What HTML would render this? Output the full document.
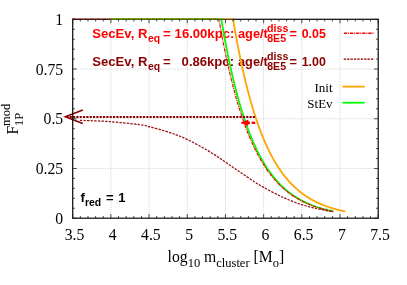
<!DOCTYPE html><html><head><meta charset="utf-8"><style>html,body{margin:0;padding:0;background:#fff}svg{display:block}text{font-family:"Liberation Serif",serif;fill:#000}.b{font-family:"Liberation Sans",sans-serif;font-weight:bold}</style></head><body>
<svg style="will-change:transform;filter:blur(0.4px)" width="407" height="285" viewBox="0 0 407 285">
<rect width="407" height="285" fill="#fff"/>
<path d="M110.89 19.3V218.2M149.07 19.3V218.2M187.26 19.3V218.2M225.45 19.3V218.2M263.64 19.3V218.2M301.82 19.3V218.2M340.01 19.3V218.2M72.7 168.47H378.2M72.7 118.75H378.2M72.7 69.03H378.2" stroke="#bcbcbc" stroke-width="0.8" stroke-dasharray="1 1.5" fill="none"/>
<text class="b" x="92.3" y="37.60" font-size="13.1" style="fill:#ff0000">SecEv, R</text>
<text class="b" x="148.1" y="42.10" font-size="10.4" style="fill:#ff0000">eq</text>
<text class="b" x="163.0" y="37.60" font-size="13.1" style="fill:#ff0000">=</text>
<text class="b" x="174.6" y="37.60" font-size="13.1" style="fill:#ff0000">16.00kpc:</text>
<text class="b" x="238.0" y="37.60" font-size="12.8" style="fill:#ff0000">age/t</text>
<text class="b" x="267.1" y="31.50" font-size="10.7" style="fill:#ff0000">diss</text>
<text class="b" x="267.2" y="42.10" font-size="10.6" style="fill:#ff0000">8E5</text>
<text class="b" x="289.4" y="37.60" font-size="12.8" style="fill:#ff0000">=</text>
<text class="b" x="301.7" y="37.60" font-size="12.4" style="fill:#ff0000">0.05</text>
<text class="b" x="92.3" y="65.90" font-size="13.1" style="fill:#8b0000">SecEv, R</text>
<text class="b" x="148.1" y="70.40" font-size="10.4" style="fill:#8b0000">eq</text>
<text class="b" x="163.0" y="65.90" font-size="13.1" style="fill:#8b0000">=</text>
<text class="b" x="181.6" y="65.90" font-size="13.1" style="fill:#8b0000">0.86kpc:</text>
<text class="b" x="238.0" y="65.90" font-size="12.8" style="fill:#8b0000">age/t</text>
<text class="b" x="267.1" y="59.80" font-size="10.7" style="fill:#8b0000">diss</text>
<text class="b" x="267.2" y="70.40" font-size="10.6" style="fill:#8b0000">8E5</text>
<text class="b" x="289.4" y="65.90" font-size="12.8" style="fill:#8b0000">=</text>
<text class="b" x="301.7" y="65.90" font-size="12.4" style="fill:#8b0000">1.00</text>
<clipPath id="c"><rect x="71.7" y="18.1" width="307.5" height="201.3"/></clipPath>
<g clip-path="url(#c)" fill="none" stroke-linejoin="round">
<path d="M232.89 18.40L233.09 19.30L233.79 23.46L234.49 27.54L235.19 31.53L235.89 35.44L236.60 39.26L237.30 43.01L238.00 46.68L238.70 50.27L239.40 53.78L240.10 57.22L240.81 60.59L241.51 63.89L242.21 67.12L242.91 70.29L243.61 73.38L244.31 76.41L245.02 79.38L245.72 82.29L246.42 85.13L247.12 87.92L247.82 90.65L248.52 93.32L249.23 95.93L249.93 98.49L250.63 100.99L251.33 103.45L252.03 105.85L252.73 108.20L253.44 110.50L254.14 112.76L254.84 114.97L255.54 117.13L256.24 119.24L256.95 121.31L257.65 123.34L258.35 125.33L259.05 127.27L259.75 129.18L260.45 131.04L261.16 132.86L261.86 134.65L262.56 136.40L263.26 138.11L263.96 139.79L264.66 141.43L265.37 143.04L266.07 144.61L266.77 146.15L267.47 147.66L268.17 149.13L268.87 150.58L269.58 152.00L270.28 153.38L270.98 154.74L271.68 156.07L272.38 157.37L273.08 158.64L273.79 159.89L274.49 161.11L275.19 162.30L275.89 163.47L276.59 164.62L277.29 165.74L278.00 166.84L278.70 167.91L279.40 168.97L280.10 170.00L280.80 171.01L281.50 171.99L282.21 172.96L282.91 173.91L283.61 174.84L284.31 175.74L285.01 176.63L285.71 177.50L286.42 178.35L287.12 179.19L287.82 180.00L288.52 180.80L289.22 181.59L289.92 182.35L290.63 183.10L291.33 183.84L292.03 184.56L292.73 185.26L293.43 185.95L294.13 186.63L294.84 187.29L295.54 187.93L296.24 188.57L296.94 189.19L297.64 189.80L298.35 190.39L299.05 190.97L299.75 191.54L300.45 192.10L301.15 192.65L301.85 193.18L302.56 193.71L303.26 194.22L303.96 194.72L304.66 195.21L305.36 195.69L306.06 196.16L306.77 196.63L307.47 197.08L308.17 197.52L308.87 197.95L309.57 198.38L310.27 198.79L310.98 199.20L311.68 199.59L312.38 199.98L313.08 200.37L313.78 200.74L314.48 201.10L315.19 201.46L315.89 201.81L316.59 202.16L317.29 202.49L317.99 202.82L318.69 203.14L319.40 203.46L320.10 203.77L320.80 204.07L321.50 204.36L322.20 204.65L322.90 204.94L323.61 205.21L324.31 205.49L325.01 205.75L325.71 206.01L326.41 206.27L327.11 206.52L327.82 206.76L328.52 207.00L329.22 207.24L329.92 207.47L330.62 207.69L331.32 207.91L332.03 208.13L332.73 208.34L333.43 208.54L334.13 208.75L334.83 208.94L335.54 209.14L336.24 209.33L336.94 209.51L337.64 209.69L338.34 209.87L339.04 210.05L339.75 210.22L340.45 210.38L341.15 210.55L341.85 210.71L342.55 210.87L343.25 211.02L343.96 211.17L344.66 211.32L345.36 211.46" stroke="#ffa500" stroke-width="1.8"/>
<path d="M221.13 18.40L221.33 19.30L222.03 23.47L222.73 27.55L223.43 31.54L224.13 35.45L224.84 39.28L225.54 43.02L226.24 46.69L226.94 50.29L227.65 53.80L228.35 57.25L229.05 60.62L229.75 63.92L230.45 67.15L231.16 70.32L231.86 73.41L232.56 76.45L233.26 79.42L233.96 82.32L234.67 85.17L235.37 87.96L236.07 90.68L236.77 93.35L237.48 95.97L238.18 98.53L238.88 101.04L239.58 103.49L240.28 105.89L240.99 108.25L241.69 110.55L242.39 112.80L243.09 115.01L243.80 117.17L244.50 119.29L245.20 121.36L245.90 123.39L246.60 125.38L247.31 127.32L248.01 129.22L248.71 131.09L249.41 132.91L250.11 134.70L250.82 136.45L251.52 138.16L252.22 139.84L252.92 141.48L253.63 143.09L254.33 144.66L255.03 146.20L255.73 147.71L256.43 149.18L257.14 150.63L257.84 152.05L258.54 153.43L259.24 154.79L259.95 156.12L260.65 157.42L261.35 158.69L262.05 159.94L262.75 161.16L263.46 162.35L264.16 163.52L264.86 164.67L265.56 165.79L266.26 166.89L266.97 167.96L267.67 169.01L268.37 170.04L269.07 171.05L269.78 172.04L270.48 173.01L271.18 173.95L271.88 174.88L272.58 175.79L273.29 176.68L273.99 177.55L274.69 178.40L275.39 179.23L276.10 180.05L276.80 180.85L277.50 181.63L278.20 182.40L278.90 183.15L279.61 183.88L280.31 184.60L281.01 185.30L281.71 185.99L282.41 186.67L283.12 187.33L283.82 187.97L284.52 188.61L285.22 189.23L285.93 189.83L286.63 190.43L287.33 191.01L288.03 191.58L288.73 192.14L289.44 192.68L290.14 193.22L290.84 193.74L291.54 194.25L292.25 194.75L292.95 195.25L293.65 195.73L294.35 196.20L295.05 196.66L295.76 197.11L296.46 197.55L297.16 197.98L297.86 198.41L298.56 198.82L299.27 199.23L299.97 199.62L300.67 200.01L301.37 200.39L302.08 200.77L302.78 201.13L303.48 201.49L304.18 201.84L304.88 202.18L305.59 202.52L306.29 202.85L306.99 203.17L307.69 203.48L308.40 203.79L309.10 204.09L309.80 204.39L310.50 204.68L311.20 204.96L311.91 205.24L312.61 205.51L313.31 205.78L314.01 206.04L314.71 206.29L315.42 206.54L316.12 206.78L316.82 207.02L317.52 207.26L318.23 207.49L318.93 207.71L319.63 207.93L320.33 208.15L321.03 208.36L321.74 208.56L322.44 208.77L323.14 208.96L323.84 209.16L324.55 209.35L325.25 209.53L325.95 209.71L326.65 209.89L327.35 210.06L328.06 210.24L328.76 210.40L329.46 210.57L330.16 210.73L330.86 210.88L331.57 211.04L332.27 211.19L332.97 211.33L333.67 211.48" stroke="#00ff00" stroke-width="1.8"/>
<path d="M218.76 18.40L218.96 19.30L219.69 23.47L220.41 27.55L221.14 31.54L221.86 35.45L222.59 39.28L223.32 43.02L224.04 46.69L224.77 50.29L225.49 53.80L226.22 57.25L226.94 60.62L227.67 63.92L228.39 67.15L229.11 70.32L229.84 73.41L230.56 76.45L231.28 79.42L232.01 82.32L232.73 85.17L233.45 87.96L234.18 90.68L234.90 93.35L235.62 95.97L236.34 98.53L237.06 101.04L237.78 103.49L238.51 105.89L239.23 108.25L239.95 110.55L240.67 112.80L241.39 115.01L242.11 117.17L242.83 119.29L243.55 121.36L244.27 123.39L244.99 125.38L245.71 127.32L246.42 129.22L247.14 131.09L247.86 132.91L248.58 134.70L249.30 136.45L250.02 138.16L250.74 139.84L251.45 141.48L252.17 143.09L252.89 144.66L253.61 146.20L254.32 147.71L255.04 149.18L255.76 150.63L256.47 152.05L257.19 153.43L257.91 154.79L258.62 156.12L259.34 157.42L260.05 158.69L260.77 159.94L261.49 161.16L262.20 162.35L262.92 163.52L263.63 164.67L264.35 165.79L265.06 166.89L265.78 167.96L266.49 169.01L267.21 170.04L267.92 171.05L268.64 172.04L269.35 173.01L270.06 173.95L270.78 174.88L271.49 175.79L272.20 176.68L272.92 177.55L273.63 178.40L274.35 179.23L275.06 180.05L275.77 180.85L276.48 181.63L277.20 182.40L277.91 183.15L278.62 183.88L279.34 184.60L280.05 185.30L280.76 185.99L281.47 186.67L282.18 187.33L282.90 187.97L283.61 188.61L284.32 189.23L285.03 189.83L285.74 190.43L286.45 191.01L287.17 191.58L287.88 192.14L288.59 192.68L289.30 193.22L290.01 193.74L290.72 194.25L291.43 194.75L292.14 195.25L292.85 195.73L293.56 196.20L294.27 196.66L294.99 197.11L295.70 197.55L296.41 197.98L297.12 198.41L297.83 198.82L298.54 199.23L299.25 199.62L299.96 200.01L300.67 200.39L301.37 200.77L302.08 201.13L302.79 201.49L303.50 201.84L304.21 202.18L304.92 202.52L305.63 202.85L306.34 203.17L307.05 203.48L307.76 203.79L308.47 204.09L309.18 204.39L309.88 204.68L310.59 204.96L311.30 205.24L312.01 205.51L312.72 205.78L313.43 206.04L314.14 206.29L314.84 206.54L315.55 206.78L316.26 207.02L316.97 207.26L317.68 207.49L318.38 207.71L319.09 207.93L319.80 208.15L320.51 208.36L321.22 208.56L321.92 208.77L322.63 208.96L323.34 209.16L324.05 209.35L324.75 209.53L325.46 209.71L326.17 209.89L326.87 210.06L327.58 210.24L328.29 210.40L329.00 210.57L329.70 210.73L330.41 210.88L331.12 211.04L331.82 211.19L332.53 211.33L333.24 211.48" stroke="#ff0000" stroke-width="1.2" stroke-dasharray="3.3 0.9 1 0.9"/>
<path d="M80.00 120.40C81.67 120.45 85.12 120.50 90.00 120.70C94.88 120.90 100.97 120.93 109.30 121.60C117.63 122.27 133.33 123.85 140.00 124.70C146.67 125.55 145.20 125.67 149.30 126.70C153.40 127.73 160.00 129.50 164.60 130.90C169.20 132.30 173.10 133.67 176.90 135.10C180.70 136.53 183.32 137.53 187.40 139.50C191.48 141.47 197.02 144.45 201.40 146.90C205.78 149.35 209.68 151.67 213.70 154.20C217.72 156.73 221.40 159.32 225.50 162.10C229.60 164.88 233.45 167.60 238.30 170.90C243.15 174.20 250.37 179.15 254.60 181.90C258.83 184.65 259.62 185.13 263.70 187.40C267.78 189.67 274.48 193.25 279.10 195.50C283.72 197.75 287.30 199.27 291.40 200.90C295.50 202.53 299.60 204.03 303.70 205.30C307.80 206.57 311.90 207.57 316.00 208.50C320.10 209.43 325.72 210.38 328.30 210.90C330.88 211.42 330.97 211.48 331.50 211.60" stroke="#961010" stroke-width="1.25" stroke-dasharray="2.4 1.2"/>
</g>
<path d="M255 117H66" stroke="#8b0000" stroke-width="2.2" stroke-dasharray="2.2 1.13" fill="none"/>
<path d="M82.8 109.9L65.3 116.8L82.8 123.5" stroke="#8b0000" stroke-width="1.6" fill="none"/>
<path d="M255.2 122.8H251.6" stroke="#ff0000" stroke-width="2.4" fill="none"/>
<path d="M241 122.8L248 120.3V125.3Z" fill="#ff0000" stroke="#ff0000" stroke-width="0.9" stroke-linejoin="round"/>
<path d="M246 122.8H250" stroke="#ff0000" stroke-width="2.4" fill="none"/>
<rect x="72.7" y="19.3" width="305.5" height="198.89999999999998" fill="none" stroke="#111" stroke-width="1.25"/>
<path d="M109.5 18.85H233.09" stroke="#ffa500" stroke-width="0.9" fill="none" opacity="0.85"/>
<path d="M109.5 18.85H221.33" stroke="#00ff00" stroke-width="0.9" fill="none" opacity="0.85"/>
<path d="M72.10000000000001 18.85H109.5" stroke="#d00000" stroke-width="0.9" stroke-dasharray="3.3 0.9 1 0.9" fill="none" opacity="0.85"/>
<path d="M109.5 18.85H218.96" stroke="#a02000" stroke-width="0.9" stroke-dasharray="3.3 0.9 1 0.9" stroke-dashoffset="0.3" fill="none" opacity="0.7"/>
<path d="M72.70 218.2v-4M72.70 19.3v4M80.34 218.2v-2.2M80.34 19.3v2.2M87.98 218.2v-2.2M87.98 19.3v2.2M95.61 218.2v-2.2M95.61 19.3v2.2M103.25 218.2v-2.2M103.25 19.3v2.2M110.89 218.2v-4M110.89 19.3v4M118.52 218.2v-2.2M118.52 19.3v2.2M126.16 218.2v-2.2M126.16 19.3v2.2M133.80 218.2v-2.2M133.80 19.3v2.2M141.44 218.2v-2.2M141.44 19.3v2.2M149.07 218.2v-4M149.07 19.3v4M156.71 218.2v-2.2M156.71 19.3v2.2M164.35 218.2v-2.2M164.35 19.3v2.2M171.99 218.2v-2.2M171.99 19.3v2.2M179.63 218.2v-2.2M179.63 19.3v2.2M187.26 218.2v-4M187.26 19.3v4M194.90 218.2v-2.2M194.90 19.3v2.2M202.54 218.2v-2.2M202.54 19.3v2.2M210.18 218.2v-2.2M210.18 19.3v2.2M217.81 218.2v-2.2M217.81 19.3v2.2M225.45 218.2v-4M225.45 19.3v4M233.09 218.2v-2.2M233.09 19.3v2.2M240.73 218.2v-2.2M240.73 19.3v2.2M248.36 218.2v-2.2M248.36 19.3v2.2M256.00 218.2v-2.2M256.00 19.3v2.2M263.64 218.2v-4M263.64 19.3v4M271.27 218.2v-2.2M271.27 19.3v2.2M278.91 218.2v-2.2M278.91 19.3v2.2M286.55 218.2v-2.2M286.55 19.3v2.2M294.19 218.2v-2.2M294.19 19.3v2.2M301.82 218.2v-4M301.82 19.3v4M309.46 218.2v-2.2M309.46 19.3v2.2M317.10 218.2v-2.2M317.10 19.3v2.2M324.74 218.2v-2.2M324.74 19.3v2.2M332.38 218.2v-2.2M332.38 19.3v2.2M340.01 218.2v-4M340.01 19.3v4M347.65 218.2v-2.2M347.65 19.3v2.2M355.29 218.2v-2.2M355.29 19.3v2.2M362.93 218.2v-2.2M362.93 19.3v2.2M370.56 218.2v-2.2M370.56 19.3v2.2M378.20 218.2v-4M378.20 19.3v4M72.7 218.20h4M378.2 218.20h-4M72.7 208.25h2.2M378.2 208.25h-2.2M72.7 198.31h2.2M378.2 198.31h-2.2M72.7 188.36h2.2M378.2 188.36h-2.2M72.7 178.42h2.2M378.2 178.42h-2.2M72.7 168.47h4M378.2 168.47h-4M72.7 158.53h2.2M378.2 158.53h-2.2M72.7 148.58h2.2M378.2 148.58h-2.2M72.7 138.64h2.2M378.2 138.64h-2.2M72.7 128.69h2.2M378.2 128.69h-2.2M72.7 118.75h4M378.2 118.75h-4M72.7 108.80h2.2M378.2 108.80h-2.2M72.7 98.86h2.2M378.2 98.86h-2.2M72.7 88.91h2.2M378.2 88.91h-2.2M72.7 78.97h2.2M378.2 78.97h-2.2M72.7 69.03h4M378.2 69.03h-4M72.7 59.08h2.2M378.2 59.08h-2.2M72.7 49.13h2.2M378.2 49.13h-2.2M72.7 39.19h2.2M378.2 39.19h-2.2M72.7 29.25h2.2M378.2 29.25h-2.2M72.7 19.30h4M378.2 19.30h-4" stroke="#1a1a1a" stroke-width="0.8" fill="none"/>
<path d="M343.9 33.3H374" stroke="#ff0000" stroke-width="1.4" stroke-dasharray="3.3 0.9 1 0.9" fill="none"/>
<path d="M343.7 59.1H374" stroke="#8b0000" stroke-width="1.4" stroke-dasharray="2.4 1.0" fill="none"/>
<path d="M342.4 86.6H364.7" stroke="#ffa500" stroke-width="1.8" fill="none"/>
<path d="M342.4 102.7H364.7" stroke="#00ff00" stroke-width="1.8" fill="none"/>
<text x="63.2" y="24.90" font-size="15.7" text-anchor="end">1</text>
<text x="63.2" y="74.62" font-size="15.7" text-anchor="end">0.75</text>
<text x="63.2" y="124.35" font-size="15.7" text-anchor="end">0.5</text>
<text x="63.2" y="174.07" font-size="15.7" text-anchor="end">0.25</text>
<text x="63.2" y="223.80" font-size="15.7" text-anchor="end">0</text>
<text x="74.50" y="240" font-size="15.7" text-anchor="middle">3.5</text>
<text x="112.69" y="240" font-size="15.7" text-anchor="middle">4</text>
<text x="150.88" y="240" font-size="15.7" text-anchor="middle">4.5</text>
<text x="189.06" y="240" font-size="15.7" text-anchor="middle">5</text>
<text x="227.25" y="240" font-size="15.7" text-anchor="middle">5.5</text>
<text x="265.44" y="240" font-size="15.7" text-anchor="middle">6</text>
<text x="303.62" y="240" font-size="15.7" text-anchor="middle">6.5</text>
<text x="341.81" y="240" font-size="15.7" text-anchor="middle">7</text>
<text x="380.00" y="240" font-size="15.7" text-anchor="middle">7.5</text>
<text x="332.6" y="92.1" font-size="13" text-anchor="end">Init</text>
<text x="332.6" y="107.6" font-size="13" text-anchor="end">StEv</text>
<text x="167.6" y="262.2" font-size="15.7">log<tspan font-size="12.5" dy="4.5">10</tspan><tspan dy="-4.5"> m</tspan><tspan font-size="12.5" dy="4.5">cluster</tspan><tspan dy="-4.5"> [M</tspan><tspan font-size="12.5" dy="4.5">o</tspan><tspan dy="-4.5">]</tspan></text>
<g transform="translate(18.3 134.6) rotate(-90)"><text x="0" y="0" font-size="15.7">F</text><text x="8.7" y="-8.5" font-size="12.5">mod</text><text x="8.7" y="4.4" font-size="12.5">1P</text></g>
<text class="b" x="80.6" y="201.7" font-size="13.1">f</text><text class="b" x="84.9" y="205.8" font-size="10.4">red</text><text class="b" x="105.9" y="201.7" font-size="13.1">=</text><text class="b" x="118.2" y="201.7" font-size="13.1">1</text>
</svg></body></html>
